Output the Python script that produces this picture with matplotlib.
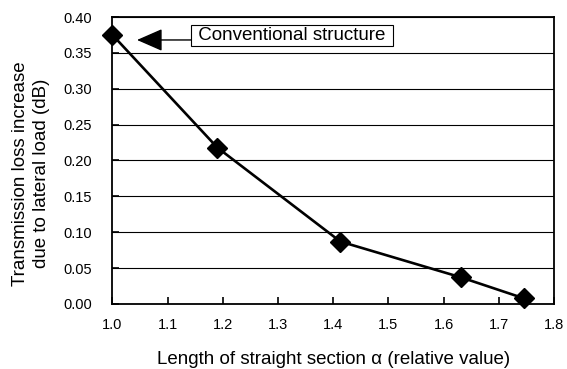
import numpy as np
import matplotlib.pyplot as plt

plt.rcParams['font.family'] = ['Liberation Sans', 'DejaVu Sans']

# data
alpha = [1.0, 1.19, 1.413, 1.632, 1.745]
loss = [0.375, 0.218, 0.087, 0.037, 0.008]
xticks = [1.0, 1.1, 1.2, 1.3, 1.4, 1.5, 1.6, 1.7, 1.8]
yticks = [0.00, 0.05, 0.10, 0.15, 0.20, 0.25, 0.30, 0.35, 0.40]

fig = plt.figure(figsize=(5.67, 3.69), dpi=100)
ax = fig.add_axes([0.1984, 0.1762, 0.7786, 0.7777])

ax.set_xlim(1.0, 1.8)
ax.set_ylim(0.0, 0.40)
ax.set_xticks(xticks)
ax.set_yticks(yticks)
ax.set_xticklabels(['%.1f' % v for v in xticks])
ax.set_yticklabels(['%.2f' % v for v in yticks])
ax.tick_params(direction='in', length=5, width=1.2, labelsize=10.5, colors='black')
ax.tick_params(axis='y', pad=15)
ax.tick_params(axis='x', pad=10)

ax.grid(axis='y', color='black', linewidth=0.8)
ax.set_axisbelow(True)
for s in ax.spines.values():
    s.set_linewidth(1.3)
    s.set_color('black')

ax.plot(alpha, loss, color='black', linewidth=1.9, marker='D',
        markersize=10.5, markerfacecolor='black', markeredgecolor='black',
        clip_on=False, zorder=5)

# label box and arrow
ax.annotate('', xy=(1.0444, 0.368), xytext=(1.1422, 0.368),
            arrowprops=dict(arrowstyle='-|>,head_length=1.6,head_width=0.7',
                            color='black', linewidth=1.0, shrinkA=0, shrinkB=0))
ax.text(1.1458, 0.3738, ' Conventional structure ', fontsize=13.5,
        ha='left', va='center', zorder=6,
        bbox=dict(boxstyle='square,pad=0.11', facecolor='white',
                  edgecolor='black', linewidth=0.8))

ax.set_xlabel('Length of straight section \u03b1 (relative value)', fontsize=13.5)
ax.xaxis.set_label_coords(0.5, -0.165)
ax.set_ylabel('Transmission loss increase\ndue to lateral load (dB)', fontsize=13.5,
              linespacing=1.3)
ax.yaxis.label.set_va('center')
ax.yaxis.set_label_coords(-0.185, 0.455)

fig.savefig('out.png', dpi=100)
